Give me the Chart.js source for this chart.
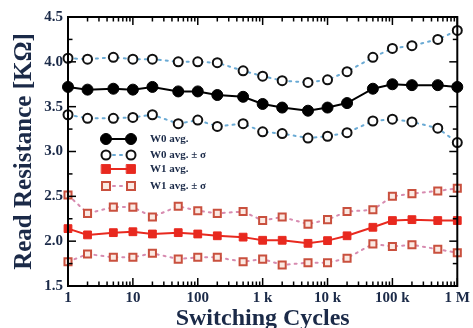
<!DOCTYPE html>
<html>
<head>
<meta charset="utf-8">
<script src="https://cdn.jsdelivr.net/npm/chart.js@4"></script>
<style>
  html, body { margin: 0; padding: 0; background: #fff; }
  #wrap { width: 473px; height: 328px; }
</style>
</head>
<body>
<div id="wrap"><canvas id="myChart" width="473" height="328"></canvas></div>
<script>
// switching cycles (x) and read resistance values in kOhm
const cycles = [1, 2, 5, 10, 20, 50, 100, 200, 500, 1e3, 2e3, 5e3, 1e4, 2e4, 5e4, 1e5, 2e5, 5e5, 1e6];
const w0Avg   = [3.72, 3.69, 3.70, 3.69, 3.72, 3.67, 3.67, 3.63, 3.61, 3.53, 3.49, 3.455, 3.49, 3.54, 3.70, 3.75, 3.74, 3.74, 3.72];
const w0Upper = [4.04, 4.03, 4.05, 4.03, 4.03, 4.00, 4.00, 3.99, 3.90, 3.84, 3.79, 3.77, 3.80, 3.89, 4.05, 4.15, 4.18, 4.25, 4.35];
const w0Lower = [3.41, 3.37, 3.37, 3.38, 3.41, 3.31, 3.35, 3.28, 3.31, 3.22, 3.20, 3.15, 3.17, 3.21, 3.34, 3.36, 3.33, 3.26, 3.10];
const w1Avg   = [2.14, 2.07, 2.095, 2.105, 2.08, 2.095, 2.08, 2.06, 2.045, 2.01, 2.01, 1.976, 2.006, 2.06, 2.155, 2.23, 2.24, 2.23, 2.23];
const w1Upper = [2.515, 2.31, 2.38, 2.38, 2.27, 2.39, 2.34, 2.31, 2.33, 2.23, 2.27, 2.19, 2.24, 2.33, 2.35, 2.50, 2.53, 2.56, 2.59];
const w1Lower = [1.77, 1.857, 1.82, 1.82, 1.865, 1.80, 1.82, 1.82, 1.77, 1.80, 1.735, 1.76, 1.76, 1.81, 1.97, 1.94, 1.96, 1.91, 1.87];
const xTickNames = { 1: '1', 10: '10', 100: '100', 1000: '1 k', 10000: '10 k', 100000: '100 k', 1000000: '1 M' };
const xMinorSteps = [2, 3, 4, 5, 6, 7, 8, 9];
const legendLabels = ['W0 avg.', 'W0 avg. \u00b1 \u03c3', 'W1 avg.', 'W1 avg. \u00b1 \u03c3'];

const navy = '#1b2a48';
const serif = "'Liberation Serif', 'DejaVu Serif', serif";

const pts = (ys) => cycles.map((c, i) => ({ x: c, y: ys[i] }));

const avgStyle = (color, shape, r) => ({
  borderColor: color, backgroundColor: color, borderWidth: 2,
  pointStyle: shape, pointRadius: r, pointBorderColor: color,
  pointBackgroundColor: color, pointBorderWidth: 1, clip: 12
});
const sigmaStyle = (lineColor, markColor, fill, shape, r) => ({
  borderColor: lineColor, borderWidth: 2, borderDash: [2, 5], borderCapStyle: 'round',
  pointStyle: shape, pointRadius: r, pointBorderColor: markColor,
  pointBackgroundColor: fill, pointBorderWidth: 2, clip: 12
});

// frame with inward ticks on all four sides
const drawFrame = (chart) => {
  const ctx = chart.ctx;
  const a = chart.chartArea;
  const x = chart.scales.x, y = chart.scales.y;
  ctx.save();
  ctx.setLineDash([]);
  ctx.lineCap = 'butt';
  ctx.globalAlpha = 1;
  ctx.strokeStyle = '#000';
  ctx.lineWidth = 1.5;
  const seg = (x1, y1, x2, y2) => {
    ctx.beginPath(); ctx.moveTo(x1, y1); ctx.lineTo(x2, y2); ctx.stroke();
  };
  Object.keys(xTickNames).forEach((dec) => {
    const d = Number(dec);
    const px = x.getPixelForValue(d);
    seg(px, a.bottom, px, a.bottom - 8);
    seg(px, a.top, px, a.top + 8);
    if (d < 1e6) {
      xMinorSteps.forEach((m) => {
        const pm = x.getPixelForValue(d * m);
        seg(pm, a.bottom, pm, a.bottom - 4.5);
        seg(pm, a.top, pm, a.top + 4.5);
      });
    }
  });
  for (let v = 1.5; v <= 4.5 + 1e-9; v += 0.25) {
    const py = y.getPixelForValue(v);
    const major = Math.abs(v * 2 - Math.round(v * 2)) < 1e-6;
    const len = major ? 8 : 4.5;
    seg(a.left, py, a.left + len, py);
    seg(a.right, py, a.right - len, py);
  }
  ctx.lineWidth = 2;
  ctx.strokeRect(a.left, a.top, a.right - a.left, a.bottom - a.top);
  ctx.restore();
};

// legend sitting inside the plot, point-line-point symbols
const drawLegend = (chart) => {
  const ctx = chart.ctx;
  const rows = [139, 155, 169, 186];
  const dsIdx = [0, 1, 3, 4];
  ctx.save();
  rows.forEach((ry, i) => {
    const ds = chart.data.datasets[dsIdx[i]];
    ctx.beginPath();
    ctx.strokeStyle = ds.borderColor;
    ctx.lineWidth = 2;
    ctx.setLineDash(ds.borderDash || []);
    ctx.lineCap = 'round';
    ctx.moveTo(106, ry); ctx.lineTo(131, ry);
    ctx.stroke();
    ctx.setLineDash([]);
    [106, 131].forEach((px) => {
      ctx.fillStyle = ds.pointBackgroundColor;
      ctx.strokeStyle = ds.pointBorderColor;
      ctx.lineWidth = ds.pointBorderWidth;
      ctx.beginPath();
      if (ds.pointStyle === 'rect') {
        const r = ds.pointRadius * 0.8;
        ctx.rect(px - r, ry - r, 2 * r, 2 * r);
      } else {
        ctx.arc(px, ry, ds.pointRadius, 0, Math.PI * 2);
      }
      ctx.fill(); ctx.stroke();
    });
    ctx.fillStyle = navy;
    ctx.font = "bold 11px " + serif;
    ctx.textBaseline = 'middle';
    ctx.fillText(legendLabels[i], 150, ry);
  });
  ctx.restore();
};

const decorPlugin = {
  id: 'decor',
  afterDatasetsDraw(chart) { drawLegend(chart); },
  afterDraw(chart) { drawFrame(chart); }
};

const generateChart = () => {
  const ctx = document.getElementById('myChart').getContext('2d');
  return new Chart(ctx, {
    type: 'line',
    data: {
      datasets: [
        { label: 'W0 avg.', data: pts(w0Avg), ...avgStyle('#000', 'circle', 5.5) },
        { label: 'W0 avg. + s', data: pts(w0Upper), ...sigmaStyle('#6aaad4', '#111', '#fff', 'circle', 4.5) },
        { label: 'W0 avg. - s', data: pts(w0Lower), ...sigmaStyle('#6aaad4', '#111', '#fff', 'circle', 4.5) },
        { label: 'W1 avg.', data: pts(w1Avg), ...avgStyle('#e8291f', 'rect', 5.5) },
        { label: 'W1 avg. + s', data: pts(w1Upper), ...sigmaStyle('#d78bb0', '#c9503e', '#fbe9e2', 'rect', 5) },
        { label: 'W1 avg. - s', data: pts(w1Lower), ...sigmaStyle('#d78bb0', '#c9503e', '#fbe9e2', 'rect', 5) }
      ]
    },
    options: {
      responsive: false,
      animation: false,
      layout: { padding: { left: 0, right: 11, top: 17, bottom: 0 } },
      plugins: { legend: { display: false }, tooltip: { enabled: false } },
      scales: {
        x: {
          type: 'logarithmic', min: 1, max: 1e6,
          grid: { display: false, drawTicks: false }, border: { display: false },
          ticks: {
            autoSkip: false, maxRotation: 0, padding: 3, color: navy,
            font: { family: serif, size: 15, weight: 'bold' },
            callback: (v) => xTickNames[v] || ''
          },
          title: {
            display: true, text: 'Switching Cycles', color: navy, padding: { top: 0, bottom: -5 },
            font: { family: serif, size: 24, weight: 'bold' }
          },
          afterFit: (s) => { s.height = 42; }
        },
        y: {
          min: 1.5, max: 4.5,
          grid: { display: false, drawTicks: false }, border: { display: false },
          ticks: {
            stepSize: 0.5, padding: 5, color: navy,
            font: { family: serif, size: 15, weight: 'bold' }
          },
          title: {
            display: true, text: 'Read Resistance [K\u03a9]', color: navy, padding: { top: 10, bottom: 0 },
            font: { family: serif, size: 25, weight: 'bold' }
          },
          afterFit: (s) => { s.width = 68; }
        }
      }
    },
    plugins: [decorPlugin]
  });
};

generateChart();
</script>
</body>
</html>
